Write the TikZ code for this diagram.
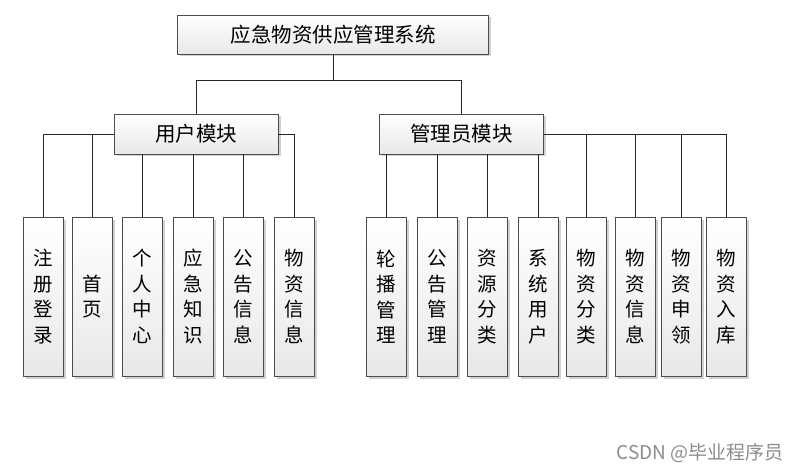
\documentclass[tikz,border=0pt]{standalone}
\usepackage{fontspec}
\setmainfont{Noto Sans CJK SC}
\usetikzlibrary{
  calc,
  positioning,
  shadows,
}
\tikzstyle{box} = [
  draw=black!70,
  line width=0.8pt,
  top color=white,
  bottom color=black!9,
  drop shadow={shadow xshift=2.5pt, shadow yshift=-2.5pt, fill=black!30, opacity=0.6},
  inner sep=0pt,
  outer sep=0pt,
]
\tikzstyle{leaf} = [
  box,
  minimum width=40pt,
  minimum height=159pt,
  align=center,
  font=\fontsize{19.5}{25.5}\selectfont,
]
\tikzstyle{module} = [
  box,
  minimum width=164pt,
  minimum height=40pt,
  font=\fontsize{20.5}{24}\selectfont,
]
\tikzstyle{link} = [line width=0.8pt, black!85]

\begin{document}
\begin{tikzpicture}[x=1pt, y=-1pt]
    \useasboundingbox (0,0) rectangle (802,473);

    \node[box,minimum width=311pt,minimum height=39pt,font=\fontsize{20.5}{24}\selectfont] (sys) at (333,34.5) {应急物资供应管理系统};

        \node[module] (user)  at (196,134)   {用户模块};
        \node[module] (admin) at (461.5,134) {管理员模块};

        % user module
        \node[leaf] (u1) at (43,296.5)      {注\\册\\登\\录};
        \node[leaf] (u2) [right=9pt of u1]  {首\\页};
        \node[leaf] (u3) [right=10pt of u2] {个\\人\\中\\心};
        \node[leaf] (u4) [right=11pt of u3] {应\\急\\知\\识};
        \node[leaf] (u5) [right=10pt of u4] {公\\告\\信\\息};
        \node[leaf] (u6) [right=11pt of u5] {物\\资\\信\\息};

        % admin module
        \node[leaf] (a1) at (386,296.5)     {轮\\播\\管\\理};
        \node[leaf] (a2) [right=11pt of a1] {公\\告\\管\\理};
        \node[leaf] (a3) [right=10pt of a2] {资\\源\\分\\类};
        \node[leaf] (a4) [right=11pt of a3] {系\\统\\用\\户};
        \node[leaf] (a5) [right=8pt of a4]  {物\\资\\分\\类};
        \node[leaf] (a6) [right=9pt of a5]  {物\\资\\信\\息};
        \node[leaf] (a7) [right=6pt of a6]  {物\\资\\申\\领};
        \node[leaf] (a8) [right=5pt of a7]  {物\\资\\入\\库};

        % connectors
        \draw[link] (sys.south) -- ++(0,26) -| (user.north);
        \draw[link] (sys.south) -- ++(0,26) -| (admin.north);

        \draw[link] (user.west) -| (u1.north);
        \draw[link] (user.west) -| (u2.north);
        \draw[link] (user.south -| u3.north) -- (u3.north);
        \draw[link] (user.south -| u4.north) -- (u4.north);
        \draw[link] (user.south -| u5.north) -- (u5.north);
        \draw[link] (user.east) -| (u6.north);

        \draw[link] (admin.south -| a1.north) -- (a1.north);
        \draw[link] (admin.south -| a2.north) -- (a2.north);
        \draw[link] (admin.south -| a3.north) -- (a3.north);
        \draw[link] (admin.south -| a4.north) -- (a4.north);
        \draw[link] (admin.east) -| (a5.north);
        \draw[link] (admin.east) -| (a6.north);
        \draw[link] (admin.east) -| (a7.north);
        \draw[link] (admin.east) -| (a8.north);

    \node[text=black!45,font=\fontsize{19}{22}\selectfont] (mark) at (700,453) {CSDN @毕业程序员};
\end{tikzpicture}
\end{document}
